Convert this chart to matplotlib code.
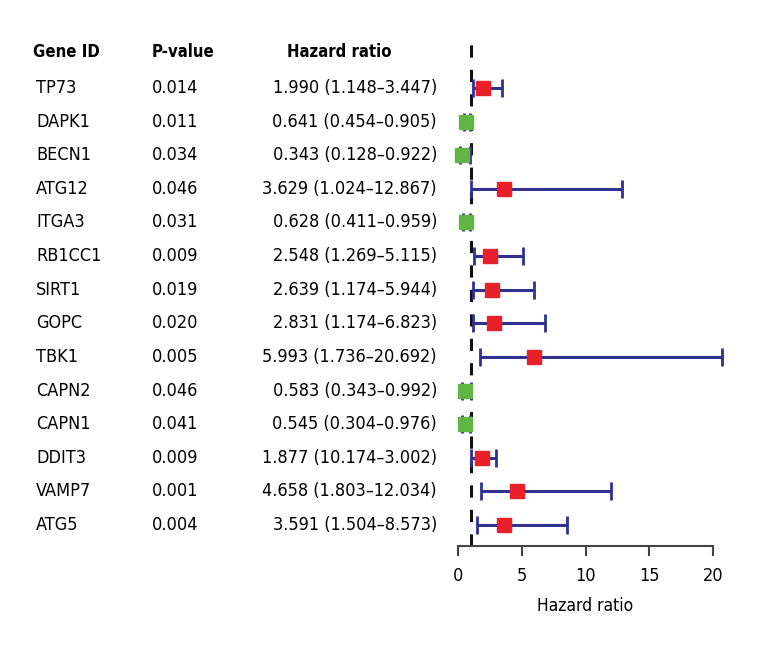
import numpy as np
import matplotlib.pyplot as plt
from matplotlib.transforms import blended_transform_factory

plt.rcParams['font.family'] = ['Liberation Sans Narrow', 'DejaVu Sans']
plt.rcParams['font.stretch'] = 'condensed'

genes = ["TP73", "DAPK1", "BECN1", "ATG12", "ITGA3", "RB1CC1", "SIRT1",
         "GOPC", "TBK1", "CAPN2", "CAPN1", "DDIT3", "VAMP7", "ATG5"]
pvals = ["0.014", "0.011", "0.034", "0.046", "0.031", "0.009", "0.019",
         "0.020", "0.005", "0.046", "0.041", "0.009", "0.001", "0.004"]
hr_text = ["1.990 (1.148\u20133.447)", "0.641 (0.454\u20130.905)",
           "0.343 (0.128\u20130.922)", "3.629 (1.024\u201312.867)",
           "0.628 (0.411\u20130.959)", "2.548 (1.269\u20135.115)",
           "2.639 (1.174\u20135.944)", "2.831 (1.174\u20136.823)",
           "5.993 (1.736\u201320.692)", "0.583 (0.343\u20130.992)",
           "0.545 (0.304\u20130.976)", "1.877 (10.174\u20133.002)",
           "4.658 (1.803\u201312.034)", "3.591 (1.504\u20138.573)"]
hr = [1.990, 0.641, 0.343, 3.629, 0.628, 2.548, 2.639, 2.831, 5.993, 0.583,
      0.545, 1.877, 4.658, 3.591]
lower = [1.148, 0.454, 0.128, 1.024, 0.411, 1.269, 1.174, 1.174, 1.736, 0.343,
         0.304, 1.017, 1.803, 1.504]
upper = [3.447, 0.905, 0.922, 12.867, 0.959, 5.115, 5.944, 6.823, 20.692, 0.992,
         0.976, 3.002, 12.034, 8.573]

hr = np.array(hr)
lower = np.array(lower)
upper = np.array(upper)
rows = np.arange(len(genes))

fig = plt.figure(figsize=(7.6, 6.6), dpi=100)
ax = fig.add_axes([458 / 760, 1 - 546 / 660, 255 / 760, 511 / 660])

navy = "#2e3192"
red = "#e8202a"
green = "#62b545"

ax.axvline(1, ymin=0, ymax=0.99, color="#111111", lw=2.2, dashes=(4, 4), zorder=1)
eb = ax.errorbar(hr, rows, xerr=[hr - lower, upper - hr], fmt="none", ecolor=navy,
                 elinewidth=2.2, capsize=6.5, capthick=2, zorder=2)
for part in eb.lines[1] + eb.lines[2]:
    part.set_clip_on(False)
pos = hr > 1
ax.plot(hr[pos], rows[pos], "s", color=red, ms=10, zorder=3)
ax.plot(hr[~pos], rows[~pos], "s", color=green, ms=10, zorder=3, clip_on=False)

ax.set_xlim(0, 20)
ax.set_ylim(13.625, -1.577)
ax.set_xticks([0, 5, 10, 15, 20])
ax.set_yticks([])
for s in ["left", "right", "top"]:
    ax.spines[s].set_visible(False)
ax.spines["bottom"].set_color("#444444")
ax.spines["bottom"].set_linewidth(1.5)
ax.tick_params(axis="x", direction="out", length=7, width=1.5, color="#444444",
               labelsize=13, pad=8)
ax.set_xlabel("Hazard ratio", fontsize=12.5, labelpad=9)

fs = 13
tr = blended_transform_factory(fig.transFigure, ax.transData)
hy = -1.07
ax.text(33 / 760, hy, "Gene ID", transform=tr, fontsize=12, fontweight="bold",
        va="center", ha="left")
ax.text(152 / 760, hy, "P-value", transform=tr, fontsize=12, fontweight="bold",
        va="center", ha="left")
ax.text(287 / 760, hy, "Hazard ratio", transform=tr, fontsize=12, fontweight="bold",
        va="center", ha="left")
for i in rows:
    ax.text(36 / 760, i, genes[i], transform=tr, fontsize=fs, va="center", ha="left")
    ax.text(152 / 760, i, pvals[i], transform=tr, fontsize=fs, va="center", ha="left")
    ax.text(437 / 760, i, hr_text[i], transform=tr, fontsize=fs, va="center", ha="right")

fig.savefig("out.png", dpi=100)
